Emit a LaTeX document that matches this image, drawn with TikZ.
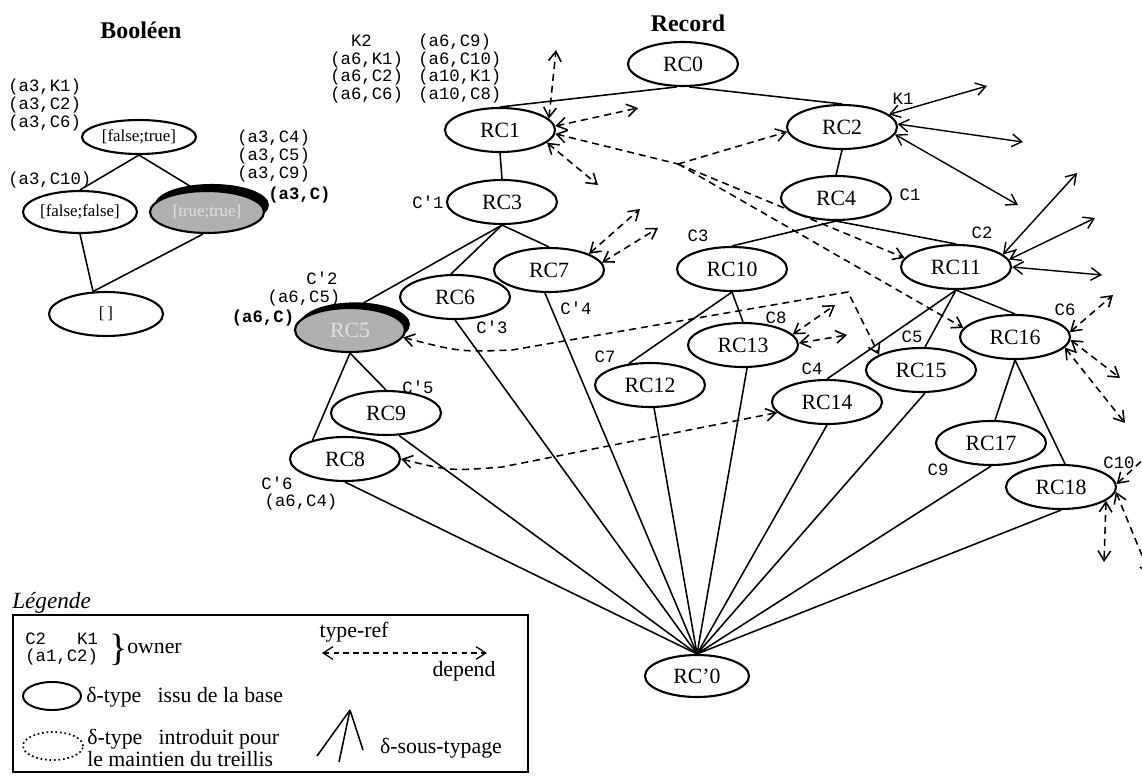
\documentclass[tikz,border=0pt]{standalone}
\usepackage{fontspec}
\setmainfont{Liberation Serif}
\setmonofont{Liberation Mono}
\usepackage{tikz}
\usetikzlibrary{shapes.geometric}
\usetikzlibrary{shadows}
\usetikzlibrary{arrows.meta}
\tikzset{>={Straight Barb[length=7pt,width=9pt]}}

\newcommand{\rcfont}{\fontsize{15.5}{16}\selectfont}
\newcommand{\lblfont}{\ttfamily\fontsize{12.3}{12.5}\selectfont}
\newcommand{\boolfont}{\fontsize{12}{13}\selectfont}

\tikzset{
	rcnode/.style={draw, ellipse, line width=1.5pt, minimum width=2.75cm,
		minimum height=1.1cm, inner sep=0pt, font=\rcfont},
	rcgrey/.style={rcnode, fill=gray!62, text=gray!25,
		general shadow={fill=black, shadow xshift=3.5pt, shadow yshift=4pt}},
	boolnode/.style={rcnode, minimum width=2.85cm, minimum height=1.05cm, font=\boolfont},
	lblnode/.style={font=\lblfont, inner sep=0pt},
	subedge/.style={line width=1.1pt},
	typeref/.style={<->, line width=1.1pt, dash pattern=on 5pt off 3.5pt},
	solidref/.style={<->, line width=1pt},
}

\begin{document}
\begin{tikzpicture}[x=0.025cm, y=-0.025cm]
	\useasboundingbox (0,0) rectangle (1142,775);

	%% Titles
	\node[font=\bfseries\fontsize{17}{17}\selectfont] (tbool) at (141,30) {Booléen};
	\node[font=\bfseries\fontsize{17}{17}\selectfont] (trec) at (688,23) {Record};

	%% Booleen lattice
	\node[boolnode, minimum height=0.85cm] (ft) at (139,137) {[false;true]};
	\node[boolnode] (ff) at (80,212) {[false;false]};
	\node[boolnode, fill=gray!62, text=gray!25,
		general shadow={fill=black, shadow xshift=3.5pt, shadow yshift=5pt}] (tt) at (207,212) {[true;true]};
	\node[boolnode, minimum height=1.1cm] (em) at (106,314) {[\,]};

	\draw[subedge] (ft.south) -- (ff.north);
	\draw[subedge] (ft.south) -- (tt.115);
	\draw[subedge] (ff.south) -- (em.120);
	\draw[subedge] (tt.260) -- (em.120);

	\node[lblnode, anchor=west, align=left] (bkc) at (8,105) {(a3,K1)\\(a3,C2)\\(a3,C6)};
	\node[lblnode, anchor=west] (bc10) at (8,180) {(a3,C10)};
	\node[lblnode, anchor=west, align=left] (bc4) at (237,156) {(a3,C4)\\(a3,C5)\\(a3,C9)};
	\node[lblnode, anchor=west, font=\lblfont\bfseries] (bc) at (268,195) {(a3,C)};

	%% Record lattice
	\node[rcnode] (rc0) at (683,64) {RC0};
	\node[rcnode] (rc1) at (500,130) {RC1};
	\node[rcnode] (rc2) at (842,127) {RC2};
	\node[rcnode] (rc3) at (502,202) {RC3};
	\node[rcnode] (rc4) at (836,198) {RC4};
	\node[rcgrey] (rc5) at (350,330) {RC5};
	\node[rcnode] (rc6) at (455,297) {RC6};
	\node[rcnode] (rc7) at (549,270) {RC7};
	\node[rcnode] (rc8) at (345,459) {RC8};
	\node[rcnode] (rc9) at (386,413) {RC9};
	\node[rcnode] (rc10) at (732,269) {RC10};
	\node[rcnode] (rc11) at (956,267) {RC11};
	\node[rcnode] (rc12) at (650,385) {RC12};
	\node[rcnode] (rc13) at (743,345) {RC13};
	\node[rcnode] (rc14) at (827,402) {RC14};
	\node[rcnode] (rc15) at (921,370) {RC15};
	\node[rcnode] (rc16) at (1015,337) {RC16};
	\node[rcnode] (rc17) at (991,443) {RC17};
	\node[rcnode] (rc18) at (1061,487) {RC18};
	\node[rcnode, minimum width=2.6cm, minimum height=1.05cm] (rcb) at (697,676) {RC'0};

	% sub-typing
	\draw[subedge] (rc0.255) -- (rc1.north);
	\draw[subedge] (rc0.285) -- (rc2.north);
	\draw[subedge] (rc1.south) -- (rc3.north);
	\draw[subedge] (rc2.south) -- (rc4.north);
	\draw[subedge] (rc3.south) -- (rc5.75);
	\draw[subedge] (rc3.south) -- (rc6.100);
	\draw[subedge] (rc3.south) -- (rc7.north);
	\draw[subedge] (rc4.south) -- (rc10.north);
	\draw[subedge] (rc4.south) -- (rc11.north);
	\draw[subedge] (rc10.south) -- (rc12.135);
	\draw[subedge] (rc10.south) -- (rc13.north);
	\draw[subedge] (rc11.south) -- (rc14.north);
	\draw[subedge] (rc11.south) -- (rc15.80);
	\draw[subedge] (rc11.south) -- (rc16.north);
	\draw[subedge] (rc16.south) -- (rc17.80);
	\draw[subedge] (rc16.south) -- (rc18.80);
	\draw[subedge] (rc5.south) -- (rc9.north);
	\draw[subedge] (rc5.south) -- (rc8.150);

	% everything down to RC'0
	\foreach \n/\a in {rc8/south, rc9/-60, rc6/south, rc7/-100, rc12/-80,
		rc13/-80, rc14/south, rc15/-80, rc17/south, rc18/south}
		\draw[subedge] (\n.\a) -- (rcb.north);

	%% type-ref / depend
	\coordinate (jn) at (678,164);
	\draw[typeref, <-] (rc1.-4) -- (jn);
	\draw[typeref, ->] (jn) -- (rc2.185);
	\draw[typeref, ->] (jn) -- (rc11.170);
	\draw[typeref, ->] (jn) -- (rc16.170);

	\draw[typeref] (rc5.-8) .. controls (460,352) .. (512,350) -- (848,292) -- (rc15.160);
	\draw[typeref] (rc8.east) .. controls (450,471) .. (502,467) -- (rc14.192);

	% free ends
	\coordinate (f1a) at (556,50);
	\coordinate (f1b) at (638,108);
	\coordinate (f1c) at (598,185);
	\coordinate (f7a) at (640,209);
	\coordinate (f7b) at (658,228);
	\coordinate (f13a) at (835,305);
	\coordinate (f13b) at (847,335);
	\coordinate (f16a) at (1113,295);
	\coordinate (f16b) at (1120,378);
	\coordinate (f16c) at (1125,423);
	\coordinate (f18a) at (1162,442);
	\coordinate (f18b) at (1150,575);
	\coordinate (f18c) at (1104,562);
	\coordinate (f2a) at (987,86);
	\coordinate (f2b) at (1023,142);
	\coordinate (f2c) at (1018,205);
	\coordinate (f11a) at (1077,173);
	\coordinate (f11b) at (1095,218);
	\coordinate (f11c) at (1102,275);

	\draw[typeref] (rc1.13) -- (f1a);
	\draw[typeref] (rc1.4) -- (f1b);
	\draw[typeref] (rc1.-15) -- (f1c);
	\draw[typeref] (rc7.22) -- (f7a);
	\draw[typeref] (rc7.8) -- (f7b);
	\draw[typeref] (rc13.12) -- (f13a);
	\draw[typeref] (rc13.2) -- (f13b);
	\draw[typeref] (rc16.5) -- (f16a);
	\draw[typeref] (rc16.-3) -- (f16b);
	\draw[typeref] (rc16.-12) -- (f16c);
	\draw[typeref] (rc18.3) -- (f18a);
	\draw[typeref] (rc18.-5) -- (f18b);
	\draw[typeref] (rc18.-17) -- (f18c);
	\draw[solidref] (rc2.15) -- (f2a);
	\draw[solidref] (rc2.3) -- (f2b);
	\draw[solidref] (rc2.-8) -- (f2c);
	\draw[solidref] (rc11.15) -- (f11a);
	\draw[solidref] (rc11.8) -- (f11b);
	\draw[solidref] (rc11.0) -- (f11c);

	%% owners
	\node[lblnode, anchor=west, align=left] (ow1) at (330,68.5) {\phantom{(a}K2\\(a6,K1)\\(a6,C2)\\(a6,C6)};
	\node[lblnode, anchor=west, align=left] (ow2) at (418,68.5) {(a6,C9)\\(a6,C10)\\(a10,K1)\\(a10,C8)};
	\node[lblnode] (lc1) at (428,202) {C'1};
	\node[lblnode] (lk1) at (903,99) {K1};
	\node[lblnode] (lc1b) at (910,195) {C1};
	\node[lblnode] (lc3) at (698,236) {C3};
	\node[lblnode] (lc2) at (982,233) {C2};
	\node[lblnode] (lp2) at (322,278) {C'2};
	\node[lblnode] (la5) at (304,298) {(a6,C5)};
	\node[lblnode, font=\lblfont\bfseries] (la6) at (263,318) {(a6,C)};
	\node[lblnode] (lp3) at (492,327) {C'3};
	\node[lblnode] (lp4) at (576,308) {C'4};
	\node[lblnode] (lp5) at (418,387) {C'5};
	\node[lblnode] (lp6) at (277,483) {C'6};
	\node[lblnode] (la4) at (301,502) {(a6,C4)};
	\node[lblnode] (lc7) at (605,357) {C7};
	\node[lblnode] (lc8) at (776,318) {C8};
	\node[lblnode] (lc5) at (912,337) {C5};
	\node[lblnode] (lc4) at (812,369) {C4};
	\node[lblnode] (lc6) at (1065,310) {C6};
	\node[lblnode] (lc9) at (938,470) {C9};
	\node[lblnode] (lc10) at (1119,463) {C10};

	%% Legend
	\node[anchor=west, inner sep=0pt, font=\itshape\fontsize{16.5}{17}\selectfont] (leg) at (12,603) {Légende};
	\draw[line width=1pt] (13,615) rectangle (528,772);

	\node[lblnode, anchor=west] (lgk) at (25,639) {C2\ \ \ K1};
	\node[lblnode, anchor=west] (lga) at (25,657) {(a1,C2)};
	\node[inner sep=0pt, font=\fontsize{27}{27}\selectfont] (lgbr) at (119,650) {\}};
	\node[anchor=west, inner sep=0pt, font=\rcfont] (lgow) at (127,648) {owner};

	\node[draw, ellipse, line width=1.4pt, minimum width=1.45cm, minimum height=0.7cm] (lgbase) at (52,696) {};
	\node[anchor=west, inner sep=0pt, font=\rcfont] (lgbt) at (86,697) {δ-type\ \ \ issu de la base};
	\node[draw, ellipse, dotted, line width=1.2pt, minimum width=1.5cm, minimum height=0.7cm] (lgnew) at (53,746) {};
	\node[anchor=west, inner sep=0pt, align=left, font=\fontsize{15.5}{13.5}\selectfont] (lgnt) at (87,748)
		{δ-type\ \ \ introduit pour\\le maintien du treillis};

	\node[inner sep=0pt, font=\rcfont] (lgtr) at (354,632) {type-ref};
	\coordinate (lgl) at (322,653);
	\coordinate (lgr) at (487,653);
	\draw[<->, line width=0.9pt, dash pattern=on 4pt off 3pt] (lgl) -- (lgr);
	\node[inner sep=0pt, font=\rcfont] (lgdp) at (464,671) {depend};

	\coordinate (lgtop) at (350,710);
	\foreach \p in {(317,756), (339,762), (363,750)}
		\draw[subedge] (lgtop) -- \p;
	\node[font=\rcfont] (lgst) at (441,748) {δ-sous-typage};

\end{tikzpicture}
\end{document}
